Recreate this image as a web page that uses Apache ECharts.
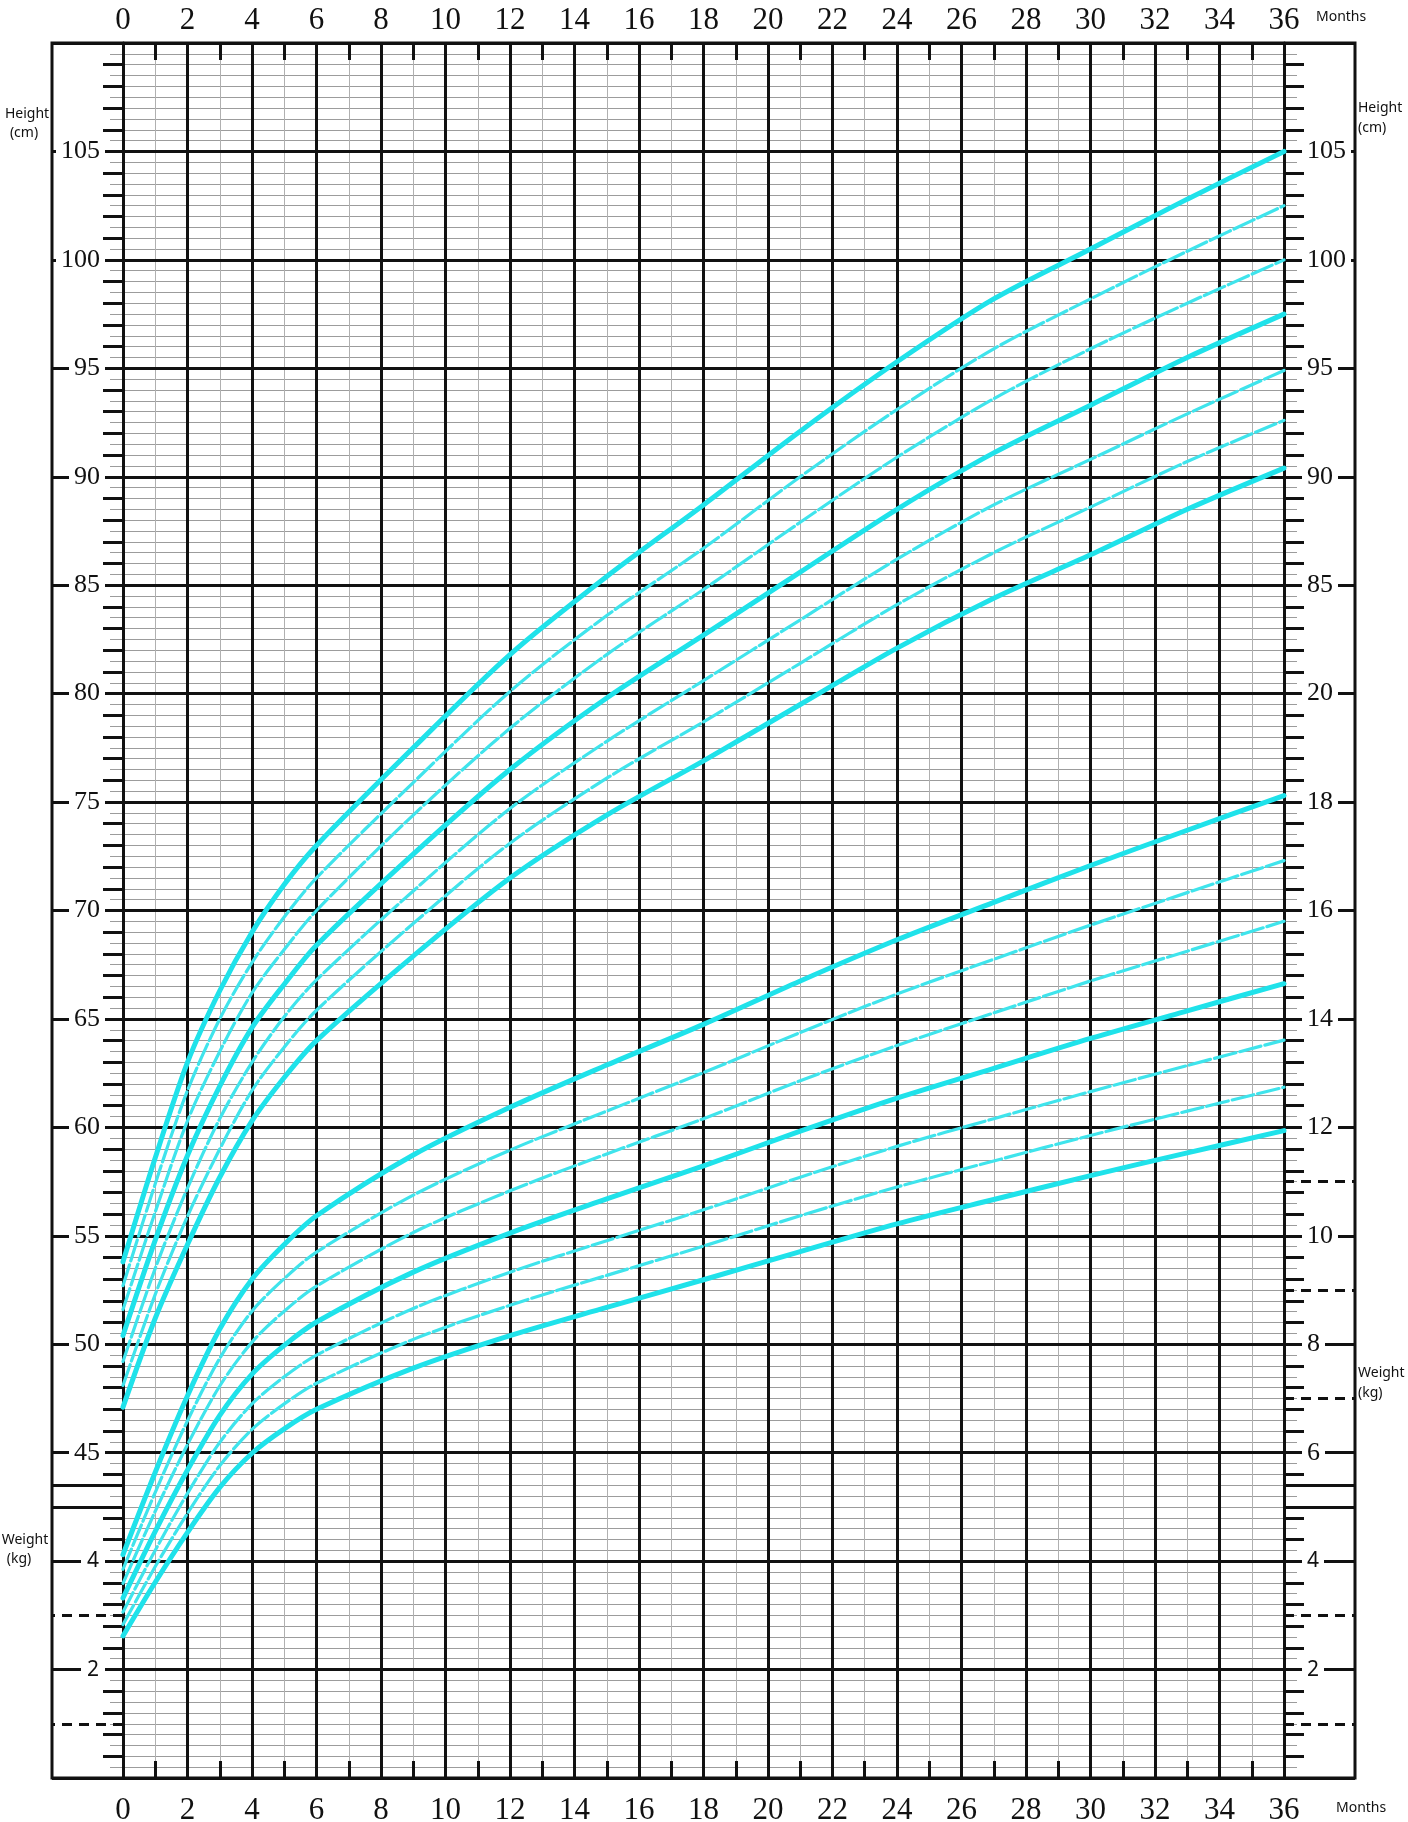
<!DOCTYPE html>
<html>
<head>
<meta charset="utf-8">
<script src="https://cdn.jsdelivr.net/npm/echarts@6/dist/echarts.min.js"></script>
<style>
html,body{margin:0;padding:0;background:#ffffff;}
#chart{width:1408px;height:1822px;}
</style>
</head>
<body>
<div id="chart"></div>
<script>
// ---- Data (boys 0-36 months, percentile curves P3, P10, P25, P50, P75, P90, P97) ----
const months = [0, 1, 2, 3, 4, 5, 6, 9, 12, 15, 18, 21, 24, 27, 30, 33, 36];

// Height / length (cm)
const heightP3  = [47.1, 51.2, 54.6, 57.7, 60.3, 62.3, 64.0, 67.9, 71.5, 74.4, 76.9, 79.5, 82.1, 84.4, 86.4, 88.5, 90.4];
const heightP10 = [48.1, 52.3, 55.9, 59.0, 61.7, 63.7, 65.4, 69.4, 73.1, 76.1, 78.7, 81.4, 84.1, 86.5, 88.6, 90.7, 92.6];
const heightP25 = [49.2, 53.5, 57.2, 60.4, 63.0, 65.1, 66.8, 70.9, 74.7, 77.8, 80.6, 83.4, 86.2, 88.7, 90.8, 92.9, 94.9];
const heightP50 = [50.4, 54.8, 58.7, 61.9, 64.6, 66.6, 68.4, 72.6, 76.5, 79.8, 82.7, 85.6, 88.5, 91.1, 93.3, 95.5, 97.5];
const heightP75 = [51.6, 56.1, 60.3, 63.5, 66.2, 68.2, 70.0, 74.4, 78.4, 81.8, 84.8, 87.9, 90.9, 93.6, 95.9, 98.0, 100.0];
const heightP90 = [52.7, 57.4, 61.7, 65.0, 67.6, 69.7, 71.5, 75.9, 80.1, 83.6, 86.7, 90.0, 93.1, 95.9, 98.2, 100.4, 102.5];
const heightP97 = [53.8, 58.6, 63.0, 66.3, 69.0, 71.2, 73.0, 77.5, 81.8, 85.4, 88.7, 92.1, 95.3, 98.2, 100.5, 102.8, 105.0];

// Weight (kg)
const weightP3  = [2.62, 3.61, 4.53, 5.36, 5.99, 6.44, 6.80, 7.56, 8.16, 8.68, 9.19, 9.71, 10.22, 10.67, 11.11, 11.53, 11.94];
const weightP10 = [2.83, 3.90, 4.88, 5.76, 6.43, 6.90, 7.28, 8.09, 8.72, 9.27, 9.81, 10.37, 10.90, 11.38, 11.85, 12.30, 12.74];
const weightP25 = [3.06, 4.20, 5.25, 6.19, 6.90, 7.40, 7.80, 8.66, 9.33, 9.91, 10.48, 11.08, 11.65, 12.16, 12.66, 13.14, 13.61];
const weightP50 = [3.32, 4.55, 5.68, 6.69, 7.45, 7.98, 8.41, 9.33, 10.05, 10.68, 11.29, 11.93, 12.54, 13.09, 13.64, 14.15, 14.65];
const weightP75 = [3.59, 4.92, 6.15, 7.23, 8.04, 8.61, 9.07, 10.06, 10.83, 11.51, 12.16, 12.86, 13.51, 14.11, 14.70, 15.25, 15.80];
const weightP90 = [3.85, 5.27, 6.59, 7.74, 8.61, 9.21, 9.70, 10.75, 11.58, 12.30, 13.01, 13.75, 14.46, 15.10, 15.73, 16.33, 16.92];
const weightP97 = [4.12, 5.64, 7.05, 8.28, 9.20, 9.84, 10.37, 11.49, 12.37, 13.15, 13.90, 14.70, 15.46, 16.15, 16.83, 17.48, 18.12];

const percentileNames = ['P3', 'P10', 'P25', 'P50', 'P75', 'P90', 'P97'];

// ---- Axis labels / ticks ----
const leftHeightLabels  = [45, 50, 55, 60, 65, 70, 75, 80, 85, 90, 95, 100, 105];
const leftWeightLabels  = [2, 4];
const rightHeightLabels = [85, 90, 95, 100, 105];
const rightWeightLabels = [2, 4, 6, 8, 10, 12, 14, 16, 18, 20];
const leftDashedWeights  = [1, 3];
const rightDashedWeights = [1, 3, 7, 9, 11];
const separatorHeights   = [42.5, 43.5];
const oddMonthTicks = [1, 3, 5, 7, 9, 11, 13, 15, 17, 19, 21, 23, 25, 27, 29, 31, 33, 35];
const unitTickHeights = [];
for (let v = 31; v <= 109; v++) { if (v !== 43) unitTickHeights.push(v); }

// ---- Scales ----
const H_MIN = 30, H_MAX = 110;   // height axis (cm)
const W_MIN = 0,  W_MAX = 32;    // weight axis (kg), shares the same pixels

const BLACK = '#111111';
const GRAY  = '#9c9c9c';
const serif = '"Liberation Serif", "Times New Roman", serif';
const sans  = '"Noto Sans", "Liberation Sans", Arial, sans-serif';

function baseAxis(extra) {
  const ax = Object.assign({
    type: 'value', gridIndex: 0,
    axisLine: { show: false }, axisTick: { show: false }, axisLabel: { show: false },
    splitLine: { show: false }, minorTick: { show: false }, minorSplitLine: { show: false }
  }, extra);
  ax.axisLine = Object.assign({}, ax.axisLine, { onZero: false });
  return ax;
}
function hAxis(extra) { return baseAxis(Object.assign({ min: H_MIN, max: H_MAX }, extra)); }
function wAxis(extra) { return baseAxis(Object.assign({ min: W_MIN, max: W_MAX }, extra)); }
function mAxis(extra) { return baseAxis(Object.assign({ min: 0, max: 36, interval: 2 }, extra)); }

const yAxes = [
  // 0 gray half-cm grid + short gray ticks (left)
  hAxis({ position: 'left', z: 0, interval: 0.5,
    axisTick: { show: true, length: 13, lineStyle: { color: GRAY, width: 1 } },
    splitLine: { show: true, lineStyle: { color: GRAY, width: 1 } } }),
  // 1 short gray ticks (right)
  hAxis({ position: 'right', z: 0, interval: 0.5,
    axisTick: { show: true, length: 13, lineStyle: { color: GRAY, width: 1 } } }),
  // 2 black 1-cm ticks (left)
  hAxis({ position: 'left', z: 1, interval: 1,
    axisTick: { show: true, length: 20, customValues: unitTickHeights, lineStyle: { color: BLACK, width: 3 } } }),
  // 3 black 1-cm ticks (right)
  hAxis({ position: 'right', z: 1, interval: 1,
    axisTick: { show: true, length: 20, customValues: unitTickHeights, lineStyle: { color: BLACK, width: 3 } } }),
  // 4 separator lines (left)
  hAxis({ position: 'left', z: 1,
    axisTick: { show: true, length: 71, customValues: separatorHeights, lineStyle: { color: BLACK, width: 3 } } }),
  // 5 separator lines (right)
  hAxis({ position: 'right', z: 1,
    axisTick: { show: true, length: 71, customValues: separatorHeights, lineStyle: { color: BLACK, width: 3 } } }),
  // 6 dashed odd-kg lines (left)
  wAxis({ position: 'left', z: 1,
    axisTick: { show: true, length: 71, customValues: leftDashedWeights, lineStyle: { color: BLACK, width: 3, type: [10, 7] } } }),
  // 7 dashed odd-kg lines (right)
  wAxis({ position: 'right', z: 1,
    axisTick: { show: true, length: 71, customValues: rightDashedWeights, lineStyle: { color: BLACK, width: 3, type: [10, 7] } } }),
  // 8 main height axis (left): black 5-cm grid, long ticks, labels
  hAxis({ position: 'left', z: 2, interval: 5,
    axisLine: { show: true, lineStyle: { color: BLACK, width: 3 } },
    axisTick: { show: true, length: 71, lineStyle: { color: BLACK, width: 3 } },
    splitLine: { show: true, lineStyle: { color: BLACK, width: 3 } },
    axisLabel: { show: true, customValues: leftHeightLabels, margin: 18, color: BLACK,
      fontFamily: serif, fontSize: 26, backgroundColor: '#ffffff', padding: [0, 5, 0, 5] } }),
  // 9 main height axis (right)
  hAxis({ position: 'right', z: 2, interval: 5,
    axisLine: { show: true, lineStyle: { color: BLACK, width: 3 } },
    axisTick: { show: true, length: 71, lineStyle: { color: BLACK, width: 3 } },
    axisLabel: { show: true, customValues: rightHeightLabels, margin: 18, color: BLACK,
      fontFamily: serif, fontSize: 26, backgroundColor: '#ffffff', padding: [0, 5, 0, 5] } }),
  // 10 weight axis (left) - used by weight series, labels 2 & 4
  wAxis({ position: 'left', z: 2,
    axisLabel: { show: true, customValues: leftWeightLabels, margin: 18, color: BLACK,
      fontFamily: sans, fontSize: 21, backgroundColor: '#ffffff', padding: [0, 6, 0, 6] } }),
  // 11 weight axis (right)
  wAxis({ position: 'right', z: 2,
    axisLabel: { show: true, customValues: rightWeightLabels, margin: 18, color: BLACK,
      backgroundColor: '#ffffff', padding: [0, 5, 0, 5],
      formatter: function (v) { return v <= 4 ? '{s|' + v + '}' : '{r|' + v + '}'; },
      rich: { s: { fontFamily: sans, fontSize: 21, color: BLACK },
              r: { fontFamily: serif, fontSize: 26, color: BLACK } } } })
];

const monthLabelStyle = { fontFamily: serif, fontSize: 31, color: BLACK };
const xAxes = [
  // 0 top: thick 2-month lines, labels
  mAxis({ position: 'top', z: 1,
    axisLine: { show: true, lineStyle: { color: BLACK, width: 3 } },
    splitLine: { show: true, lineStyle: { color: BLACK, width: 3 } },
    axisLabel: Object.assign({ show: true, margin: 7 }, monthLabelStyle) }),
  // 1 bottom: labels
  mAxis({ position: 'bottom', z: 1,
    axisLine: { show: true, lineStyle: { color: BLACK, width: 3 } },
    axisLabel: Object.assign({ show: true, margin: 17 }, monthLabelStyle) }),
  // 2 gray odd-month grid lines
  mAxis({ position: 'bottom', z: 0,
    minorTick: { show: false, splitNumber: 2 },
    minorSplitLine: { show: true, lineStyle: { color: '#b0b0b0', width: 1 } } }),
  // 3 top odd-month ticks (inside)
  mAxis({ position: 'top', z: 1,
    axisTick: { show: true, inside: true, length: 17, customValues: oddMonthTicks, lineStyle: { color: BLACK, width: 3 } } }),
  // 4 bottom odd-month ticks (inside)
  mAxis({ position: 'bottom', z: 1,
    axisTick: { show: true, inside: true, length: 17, customValues: oddMonthTicks, lineStyle: { color: BLACK, width: 3 } } })
];

const THICK = '#1fe2ea';
const THIN  = '#3fe4ec';
function curveSeries(kind, arr, i, yIdx) {
  const isThick = (i === 0 || i === 3 || i === 6);
  return {
    type: 'line', name: kind + ' ' + percentileNames[i],
    xAxisIndex: 0, yAxisIndex: yIdx,
    data: months.map((m, j) => [m, arr[j]]),
    smooth: 0.3, symbol: 'none', silent: true, z: 5,
    lineStyle: { color: isThick ? THICK : THIN, width: isThick ? 5 : 3.2,
                 type: isThick ? 'solid' : [22, 4], cap: 'round' }
  };
}

const heightCurves = [heightP3, heightP10, heightP25, heightP50, heightP75, heightP90, heightP97];
const weightCurves = [weightP3, weightP10, weightP25, weightP50, weightP75, weightP90, weightP97];
const series = [];
heightCurves.forEach((arr, i) => series.push(curveSeries('Height', arr, i, 8)));
weightCurves.forEach((arr, i) => series.push(curveSeries('Weight', arr, i, 10)));

function label(text, x, y, align) {
  return { type: 'text', x: x, y: y, z: 20, silent: true,
    style: { text: text, font: '14px ' + sans, fill: BLACK,
             align: align || 'left', textAlign: align || 'left',
             verticalAlign: 'middle', textVerticalAlign: 'middle' } };
}

const option = {
  animation: false,
  backgroundColor: '#ffffff',
  grid: [{ left: 123, right: 124, top: 43, bottom: 44, containLabel: false, outerBoundsMode: 'none' }],
  xAxis: xAxes,
  yAxis: yAxes,
  series: series,
  graphic: [
    { type: 'rect', z: 20, silent: true, shape: { x: 52, y: 43, width: 1303, height: 1735 },
      style: { fill: 'none', stroke: BLACK, lineWidth: 3 } },
    label('Months', 1316, 17),
    label('Months', 1336, 1808),
    label('Height', 27, 114, 'center'),
    label('(cm)', 24, 133, 'center'),
    label('Height', 1358, 108),
    label('(cm)', 1358, 128),
    label('Weight', 25, 1540, 'center'),
    label('(kg)', 19, 1559, 'center'),
    label('Weight', 1358, 1373),
    label('(kg)', 1358, 1393)
  ]
};

const chart = echarts.init(document.getElementById('chart'), null, { renderer: 'canvas' });
chart.setOption(option);
</script>
</body>
</html>
